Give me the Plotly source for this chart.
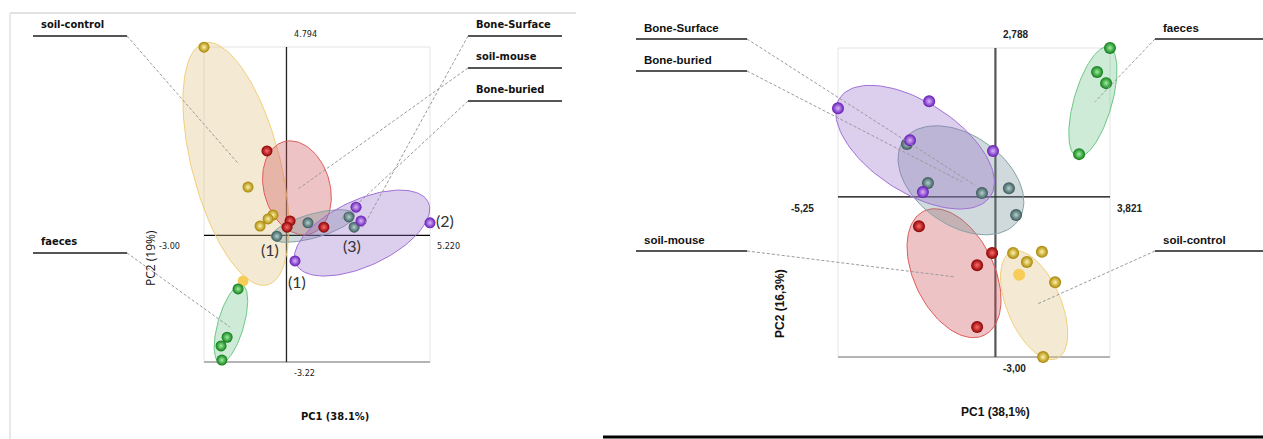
import numpy as np
import plotly.graph_objects as go

W, H = 1263, 439

# ---- data (PC scores) ----
groups = ["soil-control", "soil-mouse", "Bone-buried", "Bone-Surface", "faeces"]

# left plot (PC1 38.1% / PC2 19%)
left_pc1 = {
    "soil-control": [-3.00, -1.40, -0.49, -0.67, -0.96],
    "soil-mouse": [-0.71, 0.13, 0.02, 1.36],
    "Bone-buried": [-0.35, 0.78, 2.27, 2.46],
    "Bone-Surface": [2.53, 2.71, 5.22, 0.31],
    "faeces": [-1.76, -2.16, -2.38, -2.35],
}
left_pc2 = {
    "soil-control": [4.79, 1.23, 0.52, 0.42, 0.24],
    "soil-mouse": [2.15, 0.37, 0.21, 0.21],
    "Bone-buried": [-0.02, 0.32, 0.47, 0.21],
    "Bone-Surface": [0.72, 0.37, 0.32, -0.65],
    "faeces": [-1.36, -2.59, -2.81, -3.17],
}
left_flat_pc1 = [-1.58]   # soil-control sample drawn without shading
left_flat_pc2 = [-1.16]

# right plot (PC1 38,1% / PC2 16,3%)
right_pc1 = {
    "soil-control": [0.59, 1.55, 1.05, 1.99, 1.59],
    "soil-mouse": [-2.55, -0.11, -0.61, -0.61],
    "Bone-buried": [-2.95, -2.25, -0.45, 0.45, 0.69],
    "Bone-Surface": [-5.25, -2.21, -2.85, -0.08, -2.42],
    "faeces": [3.82, 3.39, 3.69, 2.79],
}
right_pc2 = {
    "soil-control": [-1.05, -1.03, -1.22, -1.60, -3.00],
    "soil-mouse": [-0.55, -1.05, -1.28, -2.44],
    "Bone-buried": [0.99, 0.26, 0.07, 0.16, -0.34],
    "Bone-Surface": [1.66, 1.79, 1.06, 0.86, 0.09],
    "faeces": [2.79, 2.34, 2.13, 0.80],
}
right_flat_pc1 = [0.79]
right_flat_pc2 = [-1.46]

# axis extents and their printed labels
left_x_range = [-3.00, 5.220]
left_y_range = [-3.22, 4.794]
left_x_labels = ["-3.00", "5.220"]
left_y_labels = ["-3.22", "4.794"]
right_x_range = [-5.25, 3.821]
right_y_range = [-3.00, 2.788]
right_x_labels = ["-5,25", "3,821"]
right_y_labels = ["-3,00", "2,788"]

# group ellipses: centre (PC units)
left_ell_cx = {"soil-control": -1.84, "soil-mouse": 0.38, "Bone-buried": 0.96, "Bone-Surface": 2.75, "faeces": -2.02}
left_ell_cy = {"soil-control": 1.82, "soil-mouse": 1.21, "Bone-buried": 0.24, "Bone-Surface": 0.06, "faeces": -2.25}
right_ell_cx = {"soil-control": 1.29, "soil-mouse": -1.38, "Bone-buried": -1.15, "Bone-Surface": -2.68, "faeces": 3.25}
right_ell_cy = {"soil-control": -2.03, "soil-mouse": -1.43, "Bone-buried": 0.31, "Bone-Surface": 0.93, "faeces": 1.78}

# where the label leader lines point (PC units)
left_lead_x = {"soil-control": -1.73, "soil-mouse": 0.38, "Bone-buried": 1.95, "Bone-Surface": 2.78, "faeces": -2.06}
left_lead_y = {"soil-control": 1.81, "soil-mouse": 1.16, "Bone-buried": 0.39, "Bone-Surface": 0.21, "faeces": -2.33}
right_lead_x = {"soil-control": 1.39, "soil-mouse": -1.35, "Bone-buried": -1.11, "Bone-Surface": -0.68, "faeces": 3.32}
right_lead_y = {"soil-control": -2.01, "soil-mouse": -1.50, "Bone-buried": 0.28, "Bone-Surface": 0.22, "faeces": 1.78}

# point numbering in the left plot
num_text = ["(1)", "(1)", "(3)", "(2)"]
num_pc1 = [-0.60, 0.38, 2.38, 5.75]
num_pc2 = [-0.35, -1.18, -0.25, 0.38]

# ---- styling ----
# (sphere centre, sphere edge, ellipse fill, ellipse outline)
colors = {
    "soil-control": ("#fff3a8", "#a88400", "rgba(226,200,140,0.38)", "#f2cf7a"),
    "soil-mouse": ("#ff6a6a", "#8a0000", "rgba(205,80,85,0.34)", "#e05a5a"),
    "Bone-buried": ("#b4d0d0", "#3a5858", "rgba(110,140,145,0.32)", "#86a2a4"),
    "Bone-Surface": ("#dcb4ff", "#6418b4", "rgba(150,105,200,0.33)", "#a070d8"),
    "faeces": ("#9cf09c", "#0e7a16", "rgba(90,190,120,0.30)", "#6cc886"),
}
# ellipse shape in screen pixels: semi-axes and angle (deg)
left_ell_shape = {"soil-control": (125, 44, 104.6), "soil-mouse": (48, 33, 106), "Bone-buried": (43, 12, 15.5),
                  "Bone-Surface": (73, 33, 25), "faeces": (40.5, 13, 74)}
right_ell_shape = {"soil-control": (58, 27, -67), "soil-mouse": (69, 40, -64), "Bone-buried": (70, 45, -35),
                   "Bone-Surface": (90, 45, -33), "faeces": (57, 19, 74)}
ell_order = ["soil-control", "soil-mouse", "Bone-buried", "Bone-Surface", "faeces"]

# framed plot boxes in page pixels: left, right, top, bottom
L_BOX = (204, 430, 47, 362)
R_BOX = (838, 1110, 48, 357)
PAD = 40  # plotting area extends beyond the frame so ellipses are not cut


def px(x):
    return x / W


def py(y):
    return 1 - y / H


def scale(box, xr, yr):
    return (box[1] - box[0]) / (xr[1] - xr[0]), (box[3] - box[2]) / (yr[1] - yr[0])


def to_page(box, xr, yr, x, y):
    sx, sy = scale(box, xr, yr)
    return box[0] + (x - xr[0]) * sx, box[3] - (y - yr[0]) * sy


def padded(box, xr, yr):
    sx, sy = scale(box, xr, yr)
    xdom = [px(box[0] - PAD), px(box[1] + PAD)]
    ydom = [py(box[3] + PAD), py(box[2] - PAD)]
    xrng = [xr[0] - PAD / sx, xr[1] + PAD / sx]
    yrng = [yr[0] - PAD / sy, yr[1] + PAD / sy]
    return xdom, ydom, xrng, yrng


fig = go.Figure()

panels = [
    ("x", "y", L_BOX, left_x_range, left_y_range, left_pc1, left_pc2, left_ell_cx, left_ell_cy,
     left_ell_shape, left_flat_pc1, left_flat_pc2, 11),
    ("x2", "y2", R_BOX, right_x_range, right_y_range, right_pc1, right_pc2, right_ell_cx, right_ell_cy,
     right_ell_shape, right_flat_pc1, right_flat_pc2, 12),
]

shapes = []
annotations = []

t = np.linspace(0, 2 * np.pi, 120)
for xa, ya, box, xr, yr, pc1, pc2, ecx, ecy, eshape, fx, fy, msize in panels:
    sx, sy = scale(box, xr, yr)
    vcol, vw = ("#222", 1.3) if xa == "x" else ("#555", 2.2)
    # frame, bottom edge and the two zero lines
    shapes.append(dict(type="rect", xref=xa, yref=ya, x0=xr[0], x1=xr[1], y0=yr[0], y1=yr[1],
                       line=dict(color="#e4e4e4", width=1), layer="below"))
    shapes.append(dict(type="line", xref=xa, yref=ya, x0=xr[0], x1=xr[1], y0=yr[0], y1=yr[0],
                       line=dict(color="#b4b4b4", width=2), layer="below"))
    shapes.append(dict(type="line", xref=xa, yref=ya, x0=0, x1=0, y0=yr[0], y1=yr[1],
                       line=dict(color=vcol, width=vw), layer="below"))
    shapes.append(dict(type="line", xref=xa, yref=ya, x0=xr[0], x1=xr[1], y0=0, y1=0,
                       line=dict(color="black", width=1.3), layer="below"))
    for g in ell_order:
        a, b, ang = eshape[g]
        th = np.radians(ang)
        dx = a * np.cos(t) * np.cos(th) - b * np.sin(t) * np.sin(th)
        dy = a * np.cos(t) * np.sin(th) + b * np.sin(t) * np.cos(th)
        fig.add_trace(go.Scatter(
            x=ecx[g] + dx / sx, y=ecy[g] + dy / sy, xaxis=xa, yaxis=ya,
            mode="lines", fill="toself", fillcolor=colors[g][2],
            line=dict(color=colors[g][3], width=1), hoverinfo="skip", showlegend=False))
    fig.add_trace(go.Scatter(
        x=fx, y=fy, xaxis=xa, yaxis=ya, mode="markers", cliponaxis=False,
        marker=dict(size=msize, color="#f8cc58", line=dict(width=0)), showlegend=False))
    for g in groups:
        # radial gradient: marker colour at the rim, gradient colour in the middle
        fig.add_trace(go.Scatter(
            x=pc1[g], y=pc2[g], xaxis=xa, yaxis=ya, mode="markers", cliponaxis=False, name=g,
            marker=dict(size=msize, color=colors[g][1], line=dict(width=0),
                        gradient=dict(type="radial", color=colors[g][0])),
            showlegend=False))

for txt, nx, ny in zip(num_text, num_pc1, num_pc2):
    annotations.append(dict(xref="x", yref="y", x=nx, y=ny, text=txt, xanchor="center", yanchor="middle",
                            font=dict(family="Lato, Open Sans, sans-serif", size=16, color="#333")))

# frame around the left figure, bottom rule under the right one
shapes.append(dict(type="line", xref="paper", yref="paper", x0=px(10), x1=px(576), y0=py(13), y1=py(13),
                   line=dict(color="#e2e2e2", width=2)))
shapes.append(dict(type="line", xref="paper", yref="paper", x0=px(10), x1=px(10), y0=py(13), y1=0,
                   line=dict(color="#e8e8e8", width=2)))
shapes.append(dict(type="line", xref="paper", yref="paper", x0=px(603), x1=1, y0=py(437), y1=py(437),
                   line=dict(color="black", width=3)))

# axis extent labels
narrow = "Liberation Sans Narrow, DejaVu Sans Condensed, Arial Narrow, sans-serif"
bold = "Liberation Sans, Arial, sans-serif"
for box, xr, yr, xl, yl, fam, wt, fs in [
        (L_BOX, left_x_range, left_y_range, left_x_labels, left_y_labels, narrow, "normal", 9),
        (R_BOX, right_x_range, right_y_range, right_x_labels, right_y_labels, bold, "bold", 10)]:
    x0p, y0p = to_page(box, xr, yr, 0, 0)
    f = dict(family=fam, size=fs, color="#222", weight=wt)
    annotations += [
        dict(x=px(x0p + 6), y=py(box[2] - 6), text=yl[1], xanchor="left", yanchor="bottom", font=f),
        dict(x=px(x0p + 6), y=py(box[3] + 4), text=yl[0], xanchor="left", yanchor="top", font=f),
        dict(x=px(box[0] - 22), y=py(y0p + 4), text=xl[0], xanchor="right", yanchor="top", font=f),
        dict(x=px(box[1] + 5), y=py(y0p + 4), text=xl[1], xanchor="left", yanchor="top", font=f),
    ]

# axis titles
annotations += [
    dict(x=px(335), y=py(416), text="PC1 (38.1%)", xanchor="center", yanchor="middle",
         font=dict(family=narrow, size=11, color="#111", weight="bold")),
    dict(x=px(150), y=py(258), text="PC2 (19%)", textangle=-90, xanchor="center", yanchor="middle",
         font=dict(family="Open Sans, Arial, sans-serif", size=12, color="#111")),
    dict(x=px(995), y=py(412), text="PC1 (38,1%)", xanchor="center", yanchor="middle",
         font=dict(family=bold, size=12, color="#111", weight="bold")),
    dict(x=px(780), y=py(303), text="PC2 (16,3%)", textangle=-90, xanchor="center", yanchor="middle",
         font=dict(family=bold, size=12, color="#111", weight="bold")),
]

# group labels with underline and dashed leader
left_labels = [("soil-control", 33, 127, 36, "left"), ("faeces", 33, 127, 253, "left"),
               ("Bone-Surface", 468, 562, 36, "right"), ("soil-mouse", 468, 562, 68, "right"),
               ("Bone-buried", 468, 562, 101, "right")]
right_labels = [("Bone-Surface", 636, 747, 39, "left"), ("Bone-buried", 636, 747, 71, "left"),
                ("soil-mouse", 636, 747, 251, "left"), ("faeces", 1155, 1263, 39, "right"),
                ("soil-control", 1155, 1263, 251, "right")]

for labels, box, xr, yr, lx, ly, fam, fs in [
        (left_labels, L_BOX, left_x_range, left_y_range, left_lead_x, left_lead_y, narrow, 11),
        (right_labels, R_BOX, right_x_range, right_y_range, right_lead_x, right_lead_y, bold, 11.5)]:
    for name, u0, u1, uy, side in labels:
        shapes.append(dict(type="line", xref="paper", yref="paper", x0=px(u0), x1=px(u1), y0=py(uy), y1=py(uy),
                           line=dict(color="#555", width=2)))
        tx, ty = to_page(box, xr, yr, lx[name], ly[name])
        sx0 = u1 if side == "left" else u0
        shapes.append(dict(type="line", xref="paper", yref="paper", x0=px(sx0), y0=py(uy), x1=px(tx), y1=py(ty),
                           line=dict(color="#9a9a9a", width=1, dash="3px,2px")))
        annotations.append(dict(x=px(u0 + 6), y=py(uy - 3), text=name, xanchor="left", yanchor="bottom",
                                font=dict(family=fam, size=fs, color="#111", weight="bold")))

for a in annotations:
    a.setdefault("xref", "paper")
    a.setdefault("yref", "paper")
    a["showarrow"] = False

lx_dom, ly_dom, lx_rng, ly_rng = padded(L_BOX, left_x_range, left_y_range)
rx_dom, ry_dom, rx_rng, ry_rng = padded(R_BOX, right_x_range, right_y_range)
ax_common = dict(visible=False, showgrid=False, zeroline=False, fixedrange=True)
fig.update_layout(
    width=W, height=H, margin=dict(l=0, r=0, t=0, b=0),
    paper_bgcolor="white", plot_bgcolor="rgba(0,0,0,0)", showlegend=False,
    xaxis=dict(domain=lx_dom, range=lx_rng, anchor="y", **ax_common),
    yaxis=dict(domain=ly_dom, range=ly_rng, anchor="x", **ax_common),
    xaxis2=dict(domain=rx_dom, range=rx_rng, anchor="y2", **ax_common),
    yaxis2=dict(domain=ry_dom, range=ry_rng, anchor="x2", **ax_common),
    shapes=shapes, annotations=annotations,
)

# the page body has a default margin; remove it so the figure sits at the window origin
fig.write_html("out.html", config={"displayModeBar": False},
               post_script="document.body.style.margin='0';")
